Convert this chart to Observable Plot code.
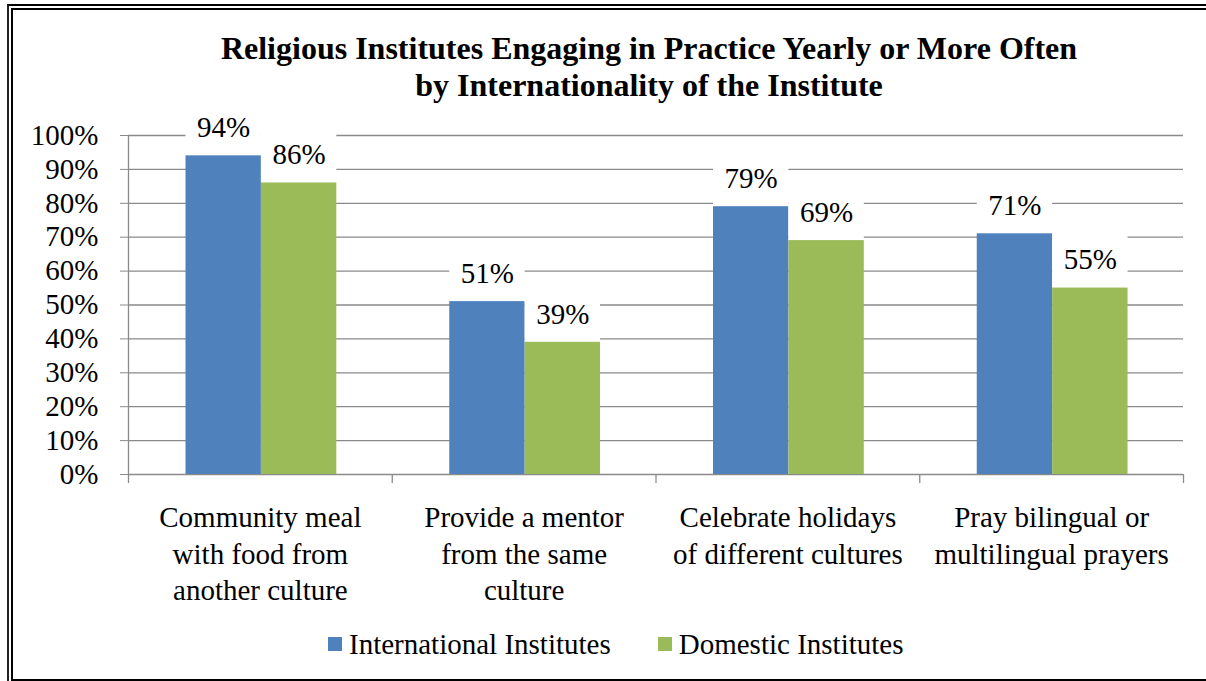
<!DOCTYPE html>
<html>
<head>
<meta charset="utf-8">
<script src="https://cdn.jsdelivr.net/npm/d3@7"></script>
<script src="https://cdn.jsdelivr.net/npm/@observablehq/plot@0.6"></script>
<style>
  html, body { margin: 0; padding: 0; background: #fff; }
  #wrap { position: relative; width: 1206px; height: 681px; overflow: hidden; background: #fff;
          font-family: "Liberation Serif", "Tinos", "DejaVu Serif", serif; color: #000; }
  #title { position: absolute; left: 0; top: 30px; width: 1298px; text-align: center;
           font-weight: bold; font-size: 32px; line-height: 37px; white-space: nowrap; }
  #chart { position: absolute; left: 0; top: 100px; }
  #legend { position: absolute; left: 328px; top: 627px; display: flex; align-items: center;
            font-size: 29px; line-height: 34px; white-space: nowrap; }
  .item { display: flex; align-items: center; }
  .sw { width: 14px; height: 14px; margin-right: 7px; }
  .frame-outer { position: absolute; left: 7px; top: 3.5px; width: 1400px; height: 900px;
                 border-left: 2px solid #222; border-top: 2px solid #000; box-sizing: border-box; z-index: 5; }
  .frame-inner { position: absolute; left: 11px; top: 7.5px; width: 1400px; height: 673.5px;
                 border: 2px solid #000; border-right: none; box-sizing: border-box; z-index: 5; }
  #chart svg text { font-family: "Liberation Serif", "Tinos", "DejaVu Serif", serif; }
</style>
</head>
<body>
<div id="wrap">
  <div class="frame-outer"></div>
  <div class="frame-inner"></div>
  <div id="title">Religious Institutes Engaging in Practice Yearly or More Often<br>by Internationality of the Institute</div>
  <div id="chart"></div>
  <div id="legend"></div>
</div>
<script>
// ---- data ----
const categories = [
  "Community meal\nwith food from\nanother culture",
  "Provide a mentor\nfrom the same\nculture",
  "Celebrate holidays\nof different cultures",
  "Pray bilingual or\nmultilingual prayers"
];
const seriesNames = ["International Institutes", "Domestic Institutes"];
const international = [94, 51, 79, 71];
const domestic = [86, 39, 69, 55];
const yTicks = [0, 10, 20, 30, 40, 50, 60, 70, 80, 90, 100];
const colors = ["#4f81bd", "#9bbb59"];

// ---- layout ----
const W = 1206, H = 520, mL = 128, mR = 23, mT = 35, mB = 146;
const bw = (W - mL - mR) / categories.length;
const gap = 57.5, barW = 75.4;
const grid = "#8a8a8a";
const fam = '"Liberation Serif", "Tinos", "DejaVu Serif", serif';

const seriesValues = [international, domestic];
const rowsBySeries = seriesValues.map((vals, s) =>
  categories.map((c, i) => ({category: c, series: seriesNames[s], value: vals[i]})));

const marks = [
  Plot.ruleY(yTicks, {stroke: grid, strokeWidth: 1.3}),
  Plot.ruleX([categories[0]], {y1: 0, y2: 100, dx: -bw / 2, stroke: grid, strokeWidth: 1.3}),
  Plot.ruleX(categories, {y1: 0, y2: 0, dx: -bw / 2, insetBottom: -9, stroke: grid, strokeWidth: 1.3}),
  Plot.ruleX([categories[categories.length - 1]], {y1: 0, y2: 0, dx: bw / 2, insetBottom: -9, stroke: grid, strokeWidth: 1.3}),
  Plot.axisY({ticks: yTicks, tickFormat: d => d + "%", tickSize: 8, tickPadding: 22, stroke: grid,
              fill: "#000", fontSize: 29, fontFamily: fam, label: null})
];

rowsBySeries.forEach((rows, s) => {
  const left = gap + s * barW;
  const right = bw - left - barW;
  const center = left + barW / 2 - bw / 2;
  marks.push(
    Plot.barY(rows, {x: "category", y1: "value", y2: "value", insetTop: -54,
                     insetLeft: left, insetRight: right, fill: "white"}),
    Plot.barY(rows, {x: "category", y: "value", insetLeft: left, insetRight: right, fill: colors[s]}),
    Plot.text(rows, {x: "category", y: "value", text: d => d.value + "%", dx: center, dy: -28,
                     fontSize: 29, fontFamily: fam, fill: "#000"})
  );
});

marks.push(
  Plot.text(categories, {x: d => d, text: d => d, frameAnchor: "bottom", lineAnchor: "top",
                         dy: 27.1, lineHeight: 1.25, fontSize: 29, fontFamily: fam, fill: "#000"})
);

const chart = Plot.plot({
  width: W, height: H,
  marginLeft: mL, marginRight: mR, marginTop: mT, marginBottom: mB,
  style: {fontFamily: fam, fontSize: "29px", color: "#000", background: "transparent", overflow: "visible"},
  x: {domain: categories, padding: 0, round: false, axis: null},
  y: {domain: [0, 100], label: null},
  marks
});
document.getElementById("chart").appendChild(chart);

// ---- legend ----
const legend = document.getElementById("legend");
seriesNames.forEach((name, i) => {
  const item = document.createElement("div");
  item.className = "item";
  if (i > 0) item.style.marginLeft = "47px";
  const sw = document.createElement("div");
  sw.className = "sw";
  sw.style.background = colors[i];
  const t = document.createElement("span");
  t.textContent = name;
  item.appendChild(sw);
  item.appendChild(t);
  legend.appendChild(item);
});
</script>
</body>
</html>
